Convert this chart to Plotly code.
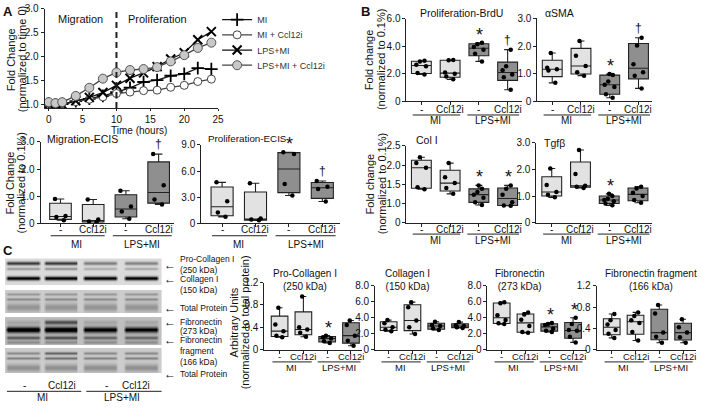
import numpy as np
import plotly.graph_objects as go

W, H = 702, 408
FONT = "Arial, 'Liberation Sans', Helvetica, sans-serif"

# ------------------------------------------------------------------ data
# Panel A: time course
time_hours = [0, 1, 2, 4, 6, 8, 10, 12, 14, 16, 18, 20, 22, 24]
fc_mi = [1.02, 1.00, 1.01, 1.07, 1.12, 1.18, 1.26, 1.35, 1.47, 1.51, 1.60, 1.64, 1.76, 1.74]
fc_mi_ccl12i = [1.03, 1.00, 1.02, 1.06, 1.11, 1.16, 1.23, 1.26, 1.29, 1.30, 1.36, 1.40, 1.48, 1.53]
fc_lps_mi = [1.00, 0.98, 1.00, 1.08, 1.15, 1.25, 1.40, 1.55, 1.66, 1.79, 1.95, 2.08, 2.35, 2.52]
fc_lps_mi_ccl12i = [1.05, 1.03, 1.05, 1.18, 1.35, 1.54, 1.67, 1.72, 1.74, 1.78, 1.90, 2.03, 2.18, 2.29]
series_names = ["MI", "MI + Ccl12i", "LPS+MI", "LPS+MI + Ccl12i"]
time_ticks = [0, 5, 10, 15, 20, 25]
fc_tick_vals = [1.0, 1.5, 2.0, 2.5, 3.0]
fc_tick_text = ["1.0", "1.5", "2.0", "2.5", "3.0"]

# box-plot groups (order: MI -, MI Ccl12i, LPS+MI -, LPS+MI Ccl12i)
conditions = ["-", "Ccl12i", "-", "Ccl12i"]
groups = ["MI", "LPS+MI"]

migration_ecis = [[0.90, 0.27, 0.24, 0.12], [0.88, 0.14, 0.07, 0.05],
                  [1.20, 0.62, 0.44, 0.17], [2.55, 1.40, 0.88, 0.70]]
proliferation_ecis = [[4.70, 2.55, 1.25, 0.75], [4.60, 0.55, 0.45, 0.35],
                      [8.15, 7.95, 4.50, 3.20], [4.85, 4.20, 3.95, 2.50]]
proliferation_brdu = [[2.95, 2.90, 2.65, 2.55, 2.05, 1.95], [3.00, 2.98, 2.10, 2.00, 1.80, 1.60],
                      [4.25, 4.15, 3.95, 3.75, 3.45, 2.90], [3.75, 2.55, 2.25, 1.95, 1.75, 0.85]]
asma = [[1.75, 1.22, 1.16, 1.12, 0.67], [2.18, 1.65, 1.28, 1.05, 0.93],
        [0.99, 0.95, 0.72, 0.60, 0.52, 0.26, 0.13], [2.30, 2.02, 1.34, 1.05, 0.93, 0.47]]
col1 = [[2.20, 2.05, 1.93, 1.42, 1.37], [2.05, 1.68, 1.53, 1.40, 1.25],
        [1.47, 1.38, 1.30, 1.23, 1.15, 1.03, 0.96], [1.47, 1.38, 1.23, 1.03, 0.95, 0.94]]
tgfb = [[2.03, 1.41, 1.15, 1.05, 0.95], [2.72, 1.82, 1.38, 1.35, 1.30],
        [1.08, 1.00, 0.90, 0.85, 0.80, 0.72, 0.65], [1.35, 1.28, 1.12, 1.00, 0.85, 0.75]]
procollagen = [[0.75, 0.45, 0.33, 0.25, 0.22], [0.95, 0.40, 0.36, 0.30, 0.23],
               [0.25, 0.22, 0.20, 0.15, 0.12], [0.52, 0.44, 0.25, 0.16, 0.07]]
collagen = [[3.70, 3.30, 2.80, 2.50, 2.30], [5.95, 5.30, 3.65, 2.80, 1.95],
            [3.50, 3.10, 2.95, 2.65, 2.45], [3.45, 3.05, 2.95, 2.80, 2.70]]
fibronectin = [[5.95, 5.80, 4.30, 3.70, 3.30, 3.20], [4.65, 4.40, 3.75, 2.95, 2.20, 2.10],
               [3.35, 3.20, 3.10, 2.60, 2.35, 2.20], [4.00, 3.20, 2.45, 2.35, 1.60, 0.90]]
fn_fragment = [[0.67, 0.55, 0.47, 0.37, 0.30, 0.22], [0.70, 0.63, 0.55, 0.50, 0.33, 0.17],
               [0.84, 0.68, 0.32, 0.24, 0.13], [0.57, 0.42, 0.32, 0.23, 0.13]]

# ------------------------------------------------------------------ helpers
def X(p):
    return p / W

def Y(p):
    return 1 - p / H

fig = go.Figure()
annotations = []
shapes = []
axes = {}

def text(x, y, s, size=10, xa="center", ya="middle", angle=0, color="#111"):
    annotations.append(dict(x=X(x), y=Y(y), xref="paper", yref="paper", text=s,
                            showarrow=False, xanchor=xa, yanchor=ya, textangle=angle,
                            font=dict(size=size, color=color, family=FONT)))

AX = dict(showline=True, linecolor="#222", linewidth=1, ticks="outside", ticklen=3,
          tickcolor="#222", tickwidth=1, showgrid=False, zeroline=False,
          tickfont=dict(size=10, color="#111", family=FONT), fixedrange=True)

MI_FILL = "#e2e2e2"
LPS_FILL = "#8f8f8f"

# ------------------------------------------------------------------ panel A line chart
styles = [
    dict(marker=dict(symbol="cross-thin", size=9, color="black", line=dict(width=1.8, color="black")), lc="#111"),
    dict(marker=dict(symbol="circle", size=8, color="white", line=dict(width=1, color="#444")), lc="#444"),
    dict(marker=dict(symbol="x-thin", size=9, color="black", line=dict(width=2, color="black")), lc="#111"),
    dict(marker=dict(symbol="circle", size=9, color="#c8c8c8", line=dict(width=1, color="#555")), lc="#444"),
]
legend_y = [14, 29.7, 45.4, 61]
legend_ids = ["legend", "legend2", "legend3", "legend4"]
legends = {}
for name, vals, st, lid, ly in zip(series_names, [fc_mi, fc_mi_ccl12i, fc_lps_mi, fc_lps_mi_ccl12i],
                                   styles, legend_ids, legend_y):
    fig.add_trace(go.Scatter(x=time_hours, y=vals, name=name, mode="lines+markers",
                             line=dict(color=st["lc"], width=1.3), marker=st["marker"],
                             xaxis="x", yaxis="y", hoverinfo="skip", legend=lid))
    legends[lid] = dict(x=X(219), y=Y(ly), xanchor="left", yanchor="middle", bgcolor="rgba(0,0,0,0)",
                        font=dict(size=9, color="#333", family=FONT), itemwidth=30)
axes["xaxis"] = dict(AX, domain=[X(45), X(220)], range=[-0.6, 25], tickvals=time_ticks, anchor="y",
                     ticklen=2)
axes["yaxis"] = dict(AX, domain=[Y(105), Y(2.7)], range=[0.93, 3.0], tickvals=fc_tick_vals,
                     ticktext=fc_tick_text, anchor="x")
shapes.append(dict(type="line", xref="x", yref="y domain", x0=10, x1=10, y0=0, y1=1,
                   line=dict(color="#222", width=2, dash="6px,4px")))
text(81, 13.5, "Migration", 11)
text(159, 13.5, "Proliferation", 11)
text(140, 128, "Time (hours)", 10)
text(11, 55, "Fold Change", 11, angle=-90)
text(23, 55, "(normalized to time 0)", 11, angle=-90)
text(1, 6, "<b>A</b>", 13, xa="left")

# ------------------------------------------------------------------ box panels
panels = [
    dict(data=migration_ecis, x0=41, x1=176, yt=140, yb=224, c0=61, step=33, yr=[0, 3],
         tv=[0, 1, 2, 3], tt=["0", "1.0", "2.0", "3.0"], title="Migration-ECIS", tx=45, ty=137,
         tfs=10.5, lfs=10, marks={3: "†"}, tdy=6.5, ldy=12.7, gdy=22, bw=0.66),
    dict(data=proliferation_ecis, x0=203, x1=343, yt=143, yb=224, c0=224, step=33.7, yr=[0, 9],
         tv=[0, 3, 6, 9], tt=["0", "3.0", "6.0", "9.0"], title="Proliferation-ECIS", tx=208, ty=137,
         tfs=9.8, lfs=10, marks={2: "*", 3: "†"}, tdy=6.5, ldy=12.7, gdy=22, bw=0.66),
    dict(data=proliferation_brdu, x0=410, x1=527, yt=13, yb=98.3, c0=425, step=29, yr=[0, 6],
         tv=[0, 2, 4, 6], tt=["0", "2.0", "4.0", "6.0"], title="Proliferation-BrdU", tx=422, ty=7,
         tfs=10.5, lfs=10, marks={2: "*", 3: "†"}, tdy=8.5, ldy=14, gdy=20, bw=0.69),
    dict(data=asma, x0=542, x1=658, yt=12.7, yb=98.3, c0=557, step=29, yr=[0, 3],
         tv=[0, 1, 2, 3], tt=["0", "1.0", "2.0", "3.0"], title="αSMA", tx=548, ty=7,
         tfs=10.5, lfs=10, marks={2: "*", 3: "†"}, tdy=8.5, ldy=14, gdy=20, bw=0.69),
    dict(data=col1, x0=410, x1=527, yt=144, yb=223.3, c0=425, step=29, yr=[0.5, 2.5],
         tv=[0.5, 1, 1.5, 2, 2.5], tt=["0", "1.0", "1.5", "2.0", "2.5"], title="Col I", tx=418, ty=138,
         tfs=10.5, lfs=10, marks={2: "*", 3: "*"}, tdy=6.5, ldy=11.7, gdy=18.5, bw=0.69),
    dict(data=tgfb, x0=541, x1=658, yt=140.7, yb=223.3, c0=556.5, step=29, yr=[0, 3],
         tv=[0, 1, 2, 3], tt=["0", "1.0", "2.0", "3.0"], title="Tgfβ", tx=547, ty=141,
         tfs=10.5, lfs=10, marks={2: "*"}, tdy=6.5, ldy=11.7, gdy=18.5, bw=0.69),
    dict(data=procollagen, x0=266.7, x1=365, yt=285, yb=354, c0=282, step=24, yr=[0, 1.2],
         tv=[0, 0.4, 0.8, 1.2], tt=["0", "0.4", "0.8", "1.2"], title="Pro-Collagen I<br>(250 kDa)",
         tx=273, ty=268, tfs=10, lfs=9.5, marks={2: "*"}, tdy=7.5, ldy=12.7, gdy=18.3, bw=0.7, top=True),
    dict(data=collagen, x0=378.3, x1=480, yt=288.3, yb=354, c0=392, step=24, yr=[0, 8],
         tv=[0, 2, 4, 6, 8], tt=["0", "2.0", "4.0", "6.0", "8.0"], title="Collagen I<br>(150 kDa)",
         tx=386, ty=268, tfs=10, lfs=9.5, marks={}, tdy=7.5, ldy=12.7, gdy=18.3, bw=0.7, top=True),
    dict(data=fibronectin, x0=491.7, x1=592, yt=288.3, yb=354, c0=506, step=24, yr=[0, 8],
         tv=[0, 2, 4, 6, 8], tt=["0", "2.0", "4.0", "6.0", "8.0"], title="Fibronectin<br>(273 kDa)",
         tx=497, ty=268, tfs=10, lfs=9.5, marks={2: "*", 3: "*"}, tdy=7.5, ldy=12.7, gdy=18.3, bw=0.7, top=True),
    dict(data=fn_fragment, x0=601.7, x1=702, yt=288.3, yb=354, c0=617, step=24, yr=[0, 1.2],
         tv=[0, 0.4, 0.8, 1.2], tt=["0", "0.4", "0.8", "1.2"], title="Fibronectin fragment<br>(166 kDa)",
         tx=608, ty=268, tfs=10, lfs=9.5, marks={}, tdy=7.5, ldy=12.7, gdy=18.3, bw=0.7, top=True),
]

for k, p in enumerate(panels, start=2):
    xr, yr_ = f"x{k}", f"y{k}"
    rng = [(p["x0"] - p["c0"]) / p["step"], (p["x1"] - p["c0"]) / p["step"]]
    axes[f"xaxis{k}"] = dict(AX, domain=[X(p["x0"]), X(p["x1"])], range=rng,
                             tickvals=[0, 1, 2, 3], showticklabels=False, anchor=yr_)
    axes[f"yaxis{k}"] = dict(AX, domain=[Y(p["yb"]), Y(p["yt"])], range=p["yr"],
                             tickvals=p["tv"], ticktext=p["tt"], anchor=xr)
    for i, vals in enumerate(p["data"]):
        v = np.array(vals, dtype=float)
        q1, med, q3 = np.percentile(v, [25, 50, 75], method="weibull")
        fig.add_trace(go.Box(x=[i], q1=[q1], median=[med], q3=[q3],
                             lowerfence=[v.min()], upperfence=[v.max()],
                             width=p["bw"], whiskerwidth=0.35, boxpoints=False,
                             fillcolor=MI_FILL if i < 2 else LPS_FILL,
                             line=dict(color="#222", width=1.1),
                             xaxis=xr, yaxis=yr_, showlegend=False, hoverinfo="skip"))
        fig.add_trace(go.Box(x=[i] * len(v), y=v, width=p["bw"], boxpoints="all", jitter=0.6,
                             pointpos=0, fillcolor="rgba(0,0,0,0)",
                             line=dict(color="rgba(0,0,0,0)", width=0),
                             marker=dict(color="black", size=4.5),
                             xaxis=xr, yaxis=yr_, showlegend=False, hoverinfo="skip"))
        if i in p["marks"]:
            m = p["marks"][i]
            annotations.append(dict(x=i, y=v.max(), xref=xr, yref=yr_, text=m, showarrow=False,
                                    xanchor="center", yanchor="bottom",
                                    yshift=-4 if m == "*" else 1, xshift=1 if m == "*" else 0,
                                    font=dict(size=18 if m == "*" else 12, color="#111", family=FONT)))
        # condition label under each box
        annotations.append(dict(x=i, y=Y(p["yb"] + p["tdy"]), xref=xr, yref="paper", text=conditions[i],
                                showarrow=False, xanchor="center", yanchor="middle",
                                font=dict(size=p["lfs"], color="#111", family=FONT)))
    # group lines and labels
    ly = Y(p["yb"] + p["ldy"])
    for (a, b) in [(-0.3, 1.35), (1.6, 3.4)]:
        shapes.append(dict(type="line", xref=xr, yref="paper", x0=a, x1=b, y0=ly, y1=ly,
                           line=dict(color="#222", width=1)))
    for gx, g in zip([0.5, 2.5], groups):
        annotations.append(dict(x=gx, y=Y(p["yb"] + p["gdy"]), xref=xr, yref="paper", text=g,
                                showarrow=False, xanchor="center", yanchor="middle",
                                font=dict(size=p["lfs"], color="#111", family=FONT)))
    text(p["tx"], p["ty"], p["title"], p["tfs"], xa="left", ya="top" if p.get("top") else "middle")

# y titles for box panels
text(10, 182, "Fold Change", 11, angle=-90)
text(21, 182, "(normalized to 0.1%)", 11, angle=-90)
text(373, 55, "Fold change", 11, angle=-90)
text(385, 55, "(normalized to 0.1%)", 11, angle=-90)
text(373, 183, "Fold change", 11, angle=-90)
text(385, 183, "(normalized to 0.1%)", 11, angle=-90)
text(236, 326, "Arbitrary Units", 11, angle=-90)
text(248, 326, "(normalized to total protein)", 11, angle=-90)
text(362, 6, "<b>B</b>", 13, xa="left")
text(1, 252, "<b>C</b>", 13, xa="left")

# ------------------------------------------------------------------ western blot image
rows, cols = 118, 158
lane_centres = [18, 56, 96, 137]
blots = [
    (260, 287, 0.14, [(265, 1.3, [0.62, 0.62, 0.36, 0.34]), (270.5, 1.0, [0.25, 0.28, 0.18, 0.2]),
                      (280, 1.4, [0.85, 0.85, 0.85, 0.85])]),
    (292, 316, 0.2, [(297, 1.0, [0.2] * 4), (302, 1.0, [0.25] * 4), (310, 3.0, [0.22] * 4)]),
    (320, 349, 0.25, [(325, 1.5, [0.1, 0.45, 0.1, 0.1]), (333, 2.3, [0.95, 0.98, 0.85, 0.8]),
                      (341.5, 1.3, [0.4, 0.45, 0.35, 0.35]), (346, 1.2, [0.2] * 4)]),
    (352, 378, 0.2, [(357, 1.0, [0.25, 0.4, 0.25, 0.25]), (362, 1.0, [0.28, 0.35, 0.28, 0.28]),
                     (372, 3.0, [0.25] * 4)]),
]
z = np.zeros((rows, cols))
xs = np.arange(cols)
lane_w = [np.clip((18 - np.abs(xs - c)) / 3.0, 0, 1) for c in lane_centres]
for top, bot, bg, bands in blots:
    r0, r1 = top - 260, bot - 260
    z[r0:r1, :] = bg
    rr = np.arange(r0, r1) + 260
    for yc, sig, ints in bands:
        prof = np.exp(-0.5 * ((rr - yc) / sig) ** 2)
        for j in range(4):
            z[r0:r1, :] += ints[j] * prof[:, None] * lane_w[j][None, :]
z = np.clip(z, 0, 1)
fig.add_trace(go.Heatmap(z=z, colorscale=[[0, "#ffffff"], [1, "#000000"]], zmin=0, zmax=1,
                         showscale=False, xaxis="x12", yaxis="y12", hoverinfo="skip"))
axes["xaxis12"] = dict(domain=[X(5), X(163)], range=[-0.5, cols - 0.5], visible=False, anchor="y12")
axes["yaxis12"] = dict(domain=[Y(378), Y(260)], range=[rows - 0.5, -0.5], visible=False, anchor="x12")

blot_labels = [(261, "Pro-Collagen I"), (271.7, "(250 kDa)"), (281, "Collagen I"), (292.3, "(150 kDa)"),
               (311, "Total Protein"), (325.5, "Fibronectin"), (334.5, "(273 kDa)"), (344.5, "Fibronectin"),
               (355, "fragment"), (366.7, "(166 kDa)"), (379, "Total Protein")]
for yy, s in blot_labels:
    text(180, yy, s, 8.5, xa="left")
for yy in [266.7, 281, 311, 325.5, 344.5, 379]:
    text(171, yy, "<b>←</b>", 12)
for xx, s in zip([25, 63, 107, 137], conditions):
    text(xx, 391, s, 10)
shapes.append(dict(type="line", xref="paper", yref="paper", x0=X(7), x1=X(82), y0=Y(397), y1=Y(397),
                   line=dict(color="#222", width=1)))
shapes.append(dict(type="line", xref="paper", yref="paper", x0=X(87), x1=X(163), y0=Y(397), y1=Y(397),
                   line=dict(color="#222", width=1)))
text(43, 403.5, groups[0], 10)
text(123, 403.5, groups[1], 10)

# ------------------------------------------------------------------ layout
fig.update_layout(
    width=W, height=H, autosize=False,
    margin=dict(l=0, r=0, t=0, b=0),
    paper_bgcolor="white", plot_bgcolor="white",
    font=dict(family=FONT, color="#111"),
    showlegend=True,
    annotations=annotations, shapes=shapes,
    **legends,
    **axes,
)
fig.write_html("out.html", config={"displayModeBar": False, "staticPlot": True},
               post_script="document.body.style.margin='0';document.body.style.overflow='hidden';")
